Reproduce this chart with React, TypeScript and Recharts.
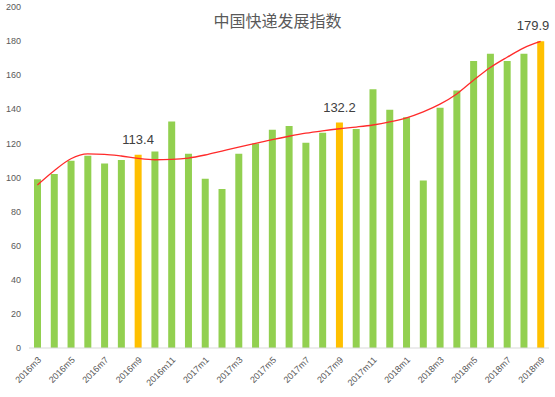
import React from "react";
import { ComposedChart, Bar, Line, XAxis, YAxis, Cell, LabelList } from "recharts";

const months = [
  "2016m3", "2016m4", "2016m5", "2016m6", "2016m7", "2016m8", "2016m9", "2016m10",
  "2016m11", "2016m12", "2017m1", "2017m2", "2017m3", "2017m4", "2017m5", "2017m6",
  "2017m7", "2017m8", "2017m9", "2017m10", "2017m11", "2017m12", "2018m1", "2018m2",
  "2018m3", "2018m4", "2018m5", "2018m6", "2018m7", "2018m8", "2018m9",
];

const indexValues = [
  99, 102, 109.8, 112.8, 108.2, 110.3, 113.4, 115.2,
  132.8, 114, 99.2, 93.3, 114, 120, 128, 130.2,
  120.4, 126.3, 132.2, 128.4, 151.8, 139.7, 135.3, 98.2,
  140.9, 151, 168.3, 172.6, 168.3, 172.6, 179.9,
];

// smoothed trend (red line)
const trendValues = [
  95.6, 104, 111, 113.8, 113.6, 112.6, 111.2, 110.4,
  110.6, 111.4, 113.2, 115.5, 117.8, 120, 122.2, 124.2,
  126, 127.4, 128.6, 129.6, 130.8, 132.6, 135, 138.5,
  143, 149, 157, 164.5, 170.5, 176, 179.8,
];

const highlighted = ["2016m9", "2017m9", "2018m9"];

const yTicks = [0, 20, 40, 60, 80, 100, 120, 140, 160, 180, 200];

const data = months.map((m, i) => ({
  month: m,
  value: indexValues[i],
  trend: trendValues[i],
  label: highlighted.includes(m) ? indexValues[i].toFixed(1) : null,
}));

// keep the last label inside the picture, like the original
const renderValueLabel = (props: any) => {
  const { x, y, width, value } = props;
  if (value == null) return null;
  const cx = Math.min(Number(x) + Number(width) / 2, 533);
  return (
    <text x={cx} y={Number(y) - 11} textAnchor="middle" fill="#404040" fontSize={13}>
      {value}
    </text>
  );
};

const App: React.FC = () => {
  return (
    <div style={{ position: "absolute", left: 0, top: 0, width: 555, height: 397, background: "#fff" }}>
      <div
        style={{
          position: "absolute",
          left: 0,
          width: 555,
          top: 8,
          textAlign: "center",
          fontFamily: "'Noto Sans CJK SC', sans-serif",
          fontSize: 16,
          color: "#595959",
        }}
      >
        中国快递发展指数
      </div>
      <ComposedChart
        width={555}
        height={397}
        data={data}
        margin={{ top: 7, right: 6, left: 0, bottom: 0 }}
        style={{ fontFamily: "'Liberation Sans', Arial, sans-serif" }}
      >
        <XAxis
          dataKey="month"
          interval={1}
          tickLine={false}
          axisLine={{ stroke: "#d9d9d9" }}
          tick={{ fontSize: 9, fill: "#595959" }}
          angle={-45}
          textAnchor="end"
          height={49}
        />
        <YAxis
          domain={[0, 200]}
          ticks={yTicks}
          tickLine={false}
          axisLine={false}
          tick={{ fontSize: 9, fill: "#595959" }}
          width={29}
        />
        <Bar dataKey="value" barSize={7} isAnimationActive={false}>
          {data.map((d) => (
            <Cell key={d.month} fill={highlighted.includes(d.month) ? "#FFC000" : "#92D050"} />
          ))}
          <LabelList dataKey="label" content={renderValueLabel} />
        </Bar>
        <Line
          type="monotone"
          dataKey="trend"
          stroke="#ff2b2b"
          strokeWidth={1.3}
          dot={false}
          isAnimationActive={false}
        />
      </ComposedChart>
    </div>
  );
};

export default App;
